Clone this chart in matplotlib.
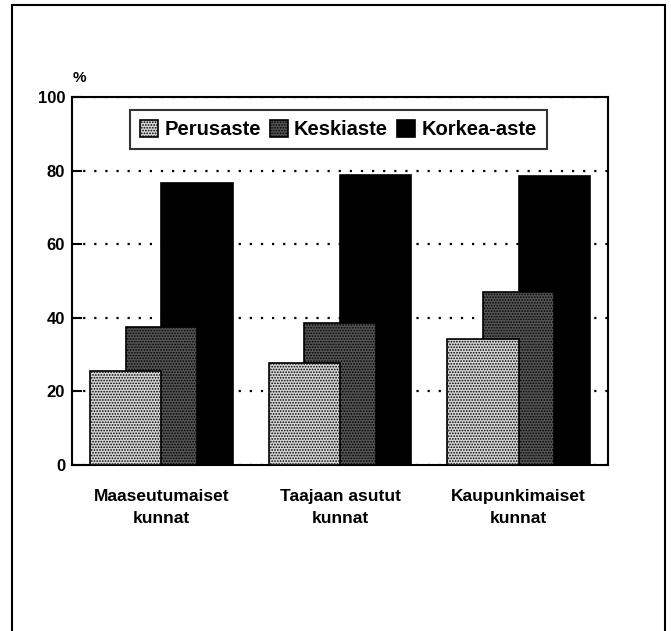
import matplotlib
matplotlib.use("Agg")
import matplotlib.pyplot as plt
import numpy as np
from matplotlib.patches import Rectangle

categories = ["Maaseutumaiset\nkunnat", "Taajaan asutut\nkunnat", "Kaupunkimaiset\nkunnat"]
series_names = ["Perusaste", "Keskiaste", "Korkea-aste"]
perusaste = [25.6, 27.7, 34.2]
keskiaste = [37.4, 38.6, 47.1]
korkea = [76.6, 78.8, 78.6]
yticks = [0, 20, 40, 60, 80, 100]

plt.rcParams['font.family'] = ['Liberation Sans', 'DejaVu Sans']
plt.rcParams['font.weight'] = 'bold'
plt.rcParams['hatch.linewidth'] = 0.8

fig = plt.figure(figsize=(6.71, 6.31), dpi=100)
fig.patches.append(Rectangle((12/671, -0.01), (665-12)/671, 1.01 - 5/631,
                             transform=fig.transFigure, fill=False,
                             edgecolor='black', linewidth=1.5, zorder=0))

ax = fig.add_axes([72/671, (631-465)/631, (608-72)/671, (465-97)/631])
x = np.arange(len(categories))
w = 0.40
off = 0.2
styles = [
    dict(facecolor='#d4d4d4', hatch='......', zorder=4),
    dict(facecolor='#555555', hatch='......', zorder=3),
    dict(facecolor='black', hatch=None, zorder=2),
]
vals = [perusaste, keskiaste, korkea]
handles = []
for i, (name, v, st) in enumerate(zip(series_names, vals, styles)):
    b = ax.bar(x + (i - 1) * off, v, width=w, facecolor=st['facecolor'],
               hatch=st['hatch'], edgecolor='black', linewidth=1.2,
               zorder=st['zorder'], label=name)
    handles.append(b)

ax.set_xlim(-0.5, 2.5)
ax.set_ylim(0, 100)
ax.set_yticks(yticks)
ax.set_yticklabels([str(t) for t in yticks], fontsize=12, fontweight='bold')
ax.set_xticks(x)
ax.set_xticklabels(categories, fontsize=12.5, fontweight='bold', linespacing=1.6)
ax.tick_params(axis='x', length=0, pad=17)
ax.tick_params(axis='y', length=7, width=1.5, pad=5, direction='in')
for s in ax.spines.values():
    s.set_linewidth(1.5)
ax.yaxis.grid(True, color='black', linestyle=(0, (1, 4)), linewidth=1.6)
ax.set_axisbelow(True)
for gl in ax.get_ygridlines():
    gl.set_zorder(1)

ax.text(0.002, 1.033, "%", transform=ax.transAxes, fontsize=11, fontweight='bold',
        ha='left', va='bottom')

leg = ax.legend(handles=handles, loc='upper center', bbox_to_anchor=(0.497, 0.965),
                ncol=3, frameon=True, fancybox=False,
                prop=dict(size=14.5, weight='bold'),
                handlelength=0.9, handleheight=0.9, handletextpad=0.3,
                columnspacing=0.45, borderpad=0.5, borderaxespad=0)
leg.get_frame().set_edgecolor('black')
leg.get_frame().set_linewidth(1.5)
leg.set_zorder(10)

fig.savefig("out.png", dpi=100)
